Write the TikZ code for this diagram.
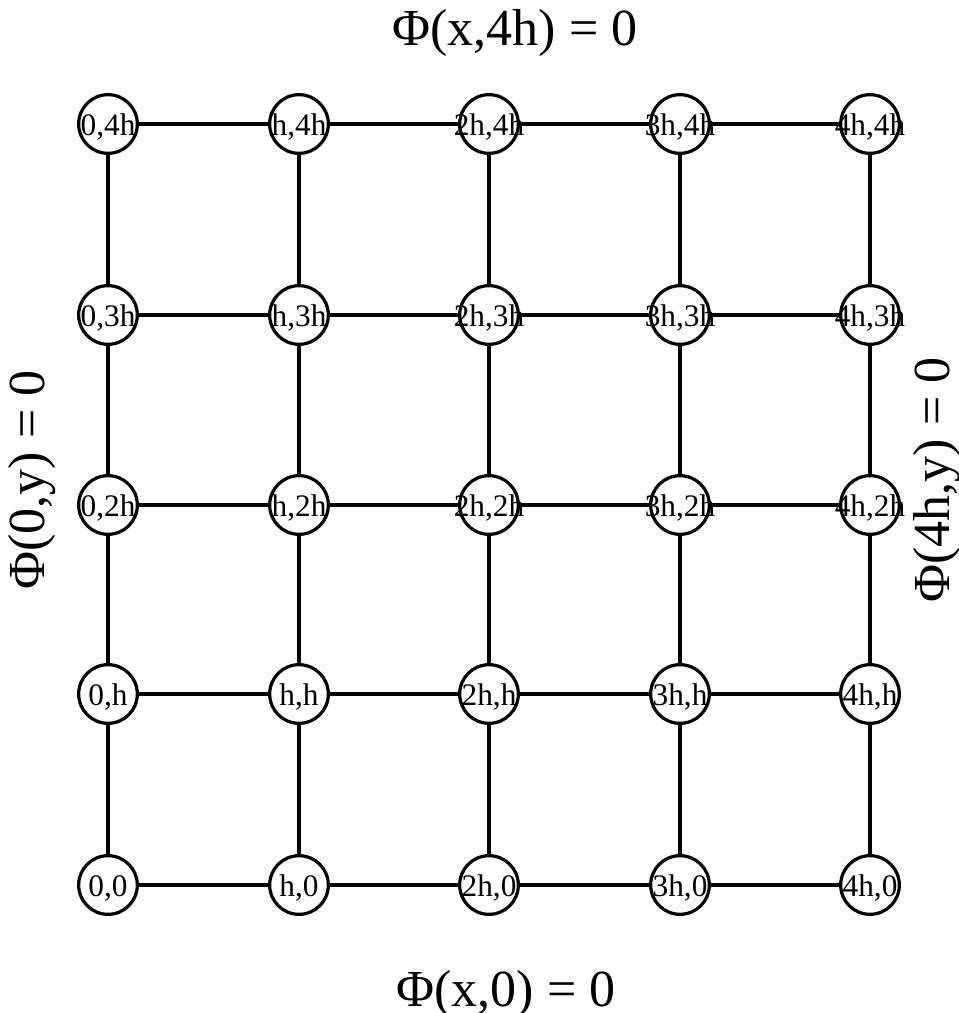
\documentclass[tikz,border=0pt]{standalone}
\usepackage{fontspec}
\setmainfont{Liberation Serif}
\usetikzlibrary{backgrounds}
\begin{document}
\begin{tikzpicture}[x=0.75pt,y=-0.75pt,
  vtx/.style={circle,draw,line width=2.4pt,fill=white,inner sep=0pt,
    minimum size=44pt},
  lbl/.style={inner sep=0pt,yshift=-2.5pt,font=\fontsize{23.5}{27}\selectfont},
  edge/.style={line width=2.4pt},
  ttl/.style={inner sep=0pt,font=\fontsize{39}{45}\selectfont}]
\useasboundingbox (0,0) rectangle (958,1013);
\foreach \i/\xx/\a in {0/108/0,1/299/h,2/489/2h,3/680/3h,4/870/4h}
  \foreach \j/\yy/\b in {0/885/0,1/694/h,2/505/2h,3/315/3h,4/124/4h}
    \node[vtx,label={[lbl]center:\a,\b}] (n\i\j) at (\xx,\yy) {};
\begin{scope}[on background layer]
  \foreach \i in {0,...,4}
    \foreach \j/\k in {0/1,1/2,2/3,3/4}
      \draw[edge] (n\i\j) -- (n\i\k);
  \foreach \j in {0,...,4}
    \foreach \i/\k in {0/1,1/2,2/3,3/4}
      \draw[edge] (n\i\j) -- (n\k\j);
\end{scope}
\node[ttl] (top) at (515,33) {Φ(x,4h) = 0};
\node[ttl] (bottom) at (506,994) {Φ(x,0) = 0};
\node[ttl,rotate=90] (left) at (32,480) {Φ(0,y) = 0};
\node[ttl,rotate=90] (right) at (937,480) {Φ(4h,y) = 0};
\end{tikzpicture}
\end{document}
